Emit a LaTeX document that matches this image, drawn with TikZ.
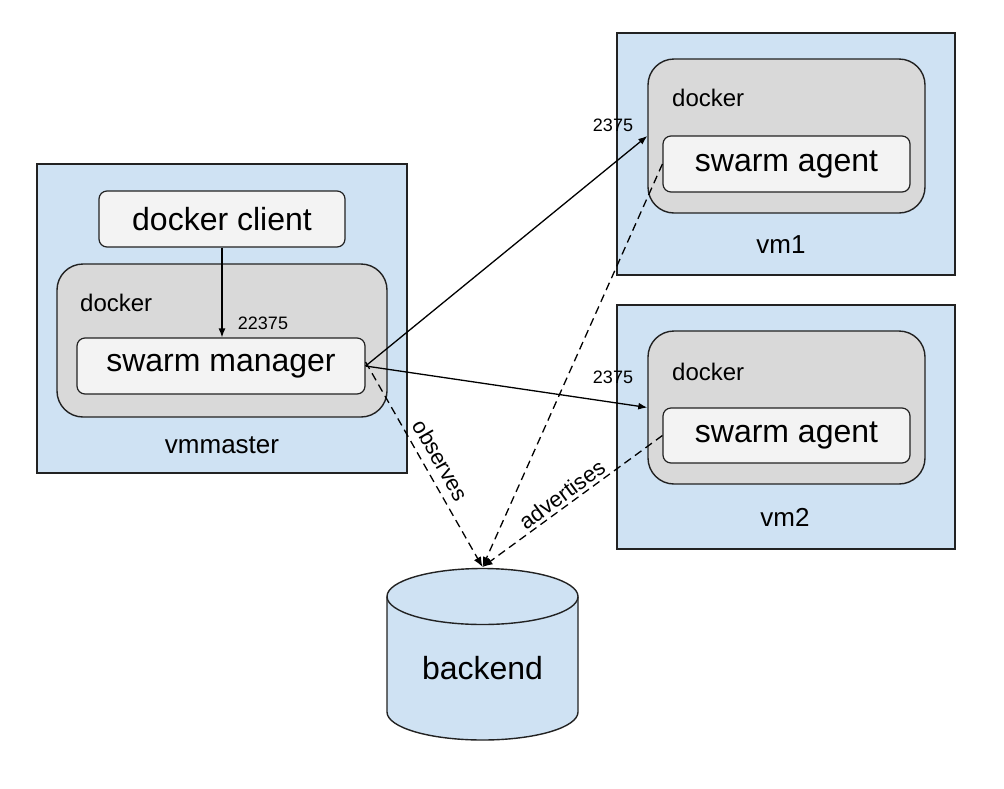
\documentclass[tikz,border=0pt]{standalone}
\usepackage{fontspec}
\setmainfont{Liberation Sans}
\usetikzlibrary{arrows.meta}
\definecolor{vmblue}{HTML}{CFE2F3}
\definecolor{dockgray}{HTML}{D9D9D9}
\definecolor{boxwhite}{HTML}{F3F3F3}
\definecolor{edge}{HTML}{222222}
\tikzset{
  vmbox/.style={draw=edge, line width=1.4pt, fill=vmblue, rectangle, inner sep=0pt},
  dockbox/.style={draw=edge, line width=1.4pt, fill=dockgray, rectangle, rounded corners=26pt, inner sep=0pt},
  procbox/.style={draw=edge, line width=1.2pt, fill=boxwhite, rectangle, rounded corners=8pt, inner sep=0pt, font=\fontsize{32}{38}\selectfont},
  lbl/.style={inner sep=0pt, font=\fontsize{26}{30}\selectfont},
  dlbl/.style={inner sep=0pt, anchor=west, font=\fontsize{24}{28}\selectfont},
  port/.style={inner sep=0pt, font=\fontsize{18}{20}\selectfont},
  arr/.style={draw=black, line width=1.3pt, -{Latex[length=9pt,width=7pt]}},
  darr/.style={draw=black, line width=1.3pt, dash pattern=on 8pt off 5pt, -{Latex[length=10pt,width=8pt]}},
  elbl/.style={inner sep=0pt, font=\fontsize{22}{26}\selectfont, sloped}
}
\begin{document}
\begin{tikzpicture}[x=1pt, y=-1pt]
\useasboundingbox (0,0) rectangle (1004,788);
\fill[white] (0,0) rectangle (1004,788);

% vmmaster
\node[vmbox, minimum width=370pt, minimum height=309pt] (vmmaster) at (222,318.5) {};
\node[dockbox, minimum width=330pt, minimum height=153pt] (dockm) at (222,340.5) {};
\node[procbox, minimum width=246pt, minimum height=56pt] (client) at (222,219) {docker client};
\node[procbox, minimum width=288pt, minimum height=56pt] (manager) at (221,366) {swarm manager};
\node[dlbl] (dockmlbl) at (80,303) {docker};
\node[lbl] (vmmasterlbl) at (222,445) {vmmaster};
\node[port] (p0) at (263,323) {22375};

% vm1
\node[vmbox, minimum width=338pt, minimum height=242pt] (vm1) at (786,154) {};
\node[dockbox, minimum width=277pt, minimum height=154pt] (dock1) at (786.5,136) {};
\node[procbox, minimum width=247pt, minimum height=56pt] (agent1) at (786.5,164) {swarm agent};
\node[dlbl] (dock1lbl) at (672,98) {docker};
\node[lbl] (vm1lbl) at (781,245) {vm1};
\node[port] (p1) at (613,125) {2375};

% vm2
\node[vmbox, minimum width=338pt, minimum height=244pt] (vm2) at (786,427) {};
\node[dockbox, minimum width=277pt, minimum height=153pt] (dock2) at (786.5,407.5) {};
\node[procbox, minimum width=247pt, minimum height=55pt] (agent2) at (786.5,435.5) {swarm agent};
\node[dlbl] (dock2lbl) at (672,372) {docker};
\node[lbl] (vm2lbl) at (785,517) {vm2};
\node[port] (p2) at (613,377) {2375};

% backend cylinder
\fill[vmblue] (387,596.5) -- (387,712) arc[start angle=180, end angle=360, x radius=95.5pt, y radius=28pt] -- (578,596.5) -- cycle;
\fill[vmblue] (482.5,596.5) ellipse[x radius=95.5pt, y radius=28pt];
\draw[edge, line width=1.4pt] (387,596.5) -- (387,712) arc[start angle=180, end angle=360, x radius=95.5pt, y radius=28pt] -- (578,596.5);
\draw[edge, line width=1.4pt] (482.5,596.5) ellipse[x radius=95.5pt, y radius=28pt];
\coordinate (bktop) at (482.5,567);
\node[inner sep=0pt, font=\fontsize{32}{38}\selectfont] (backend) at (482.5,668) {backend};

% connectors
\draw[arr] (client.south) -- (client.south |- manager.north);
\draw[arr] (manager.east) -- (dock1.west);
\draw[arr] (manager.east) -- (dock2.west);
\draw[darr] ([yshift=4pt]manager.east) -- node[elbl, above=8pt, pos=0.52] {observes} (bktop);
\draw[darr] (agent1.west) -- (bktop);
\draw[darr] (agent2.west) -- node[elbl, above=3pt, pos=0.52] {advertises} (bktop);
\end{tikzpicture}
\end{document}
